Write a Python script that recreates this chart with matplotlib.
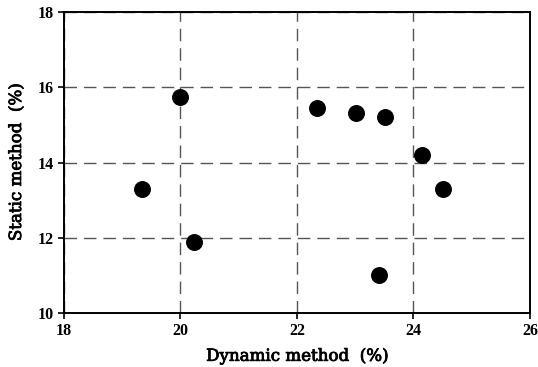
import matplotlib
matplotlib.use("Agg")
import matplotlib.pyplot as plt
import matplotlib.patheffects as pe

# Data
dynamic = [19.34, 20.00, 20.24, 22.35, 23.01, 23.51, 24.14, 24.51, 23.41]
static = [13.30, 15.74, 11.90, 15.44, 15.33, 15.22, 14.20, 13.30, 11.00]

x_ticks = [18, 20, 22, 24, 26]
y_ticks = [10, 12, 14, 16, 18]

plt.rcParams['font.family'] = ['Liberation Serif', 'DejaVu Serif']

fig = plt.figure(figsize=(5.38, 3.67), dpi=100)
ax = fig.add_axes([0.119, 0.147, 0.866, 0.820])

ax.scatter(dynamic, static, s=125, color="black", zorder=3)

ax.set_xlim(18, 26)
ax.set_ylim(10, 18)
ax.set_xticks(x_ticks)
ax.set_yticks(y_ticks)

ax.grid(True, color="#555555", linestyle=(0, (9, 5)), linewidth=1.0)
for s in ax.spines.values():
    s.set_linewidth(1.4)

ax.tick_params(direction="out", length=4, width=1.2, labelsize=11.5)
for lab in ax.get_xticklabels() + ax.get_yticklabels():
    lab.set_fontweight("bold")

# slightly heavier strokes on the axis titles
thick = [pe.withStroke(linewidth=0.6, foreground="black")]
label_font = dict(family="DejaVu Serif", fontsize=12, path_effects=thick)
ax.set_xlabel("Dynamic method  (%)", labelpad=6, **label_font)
ax.set_ylabel("Static method  (%)", labelpad=9, **label_font)

plt.savefig("out.png", dpi=100)
